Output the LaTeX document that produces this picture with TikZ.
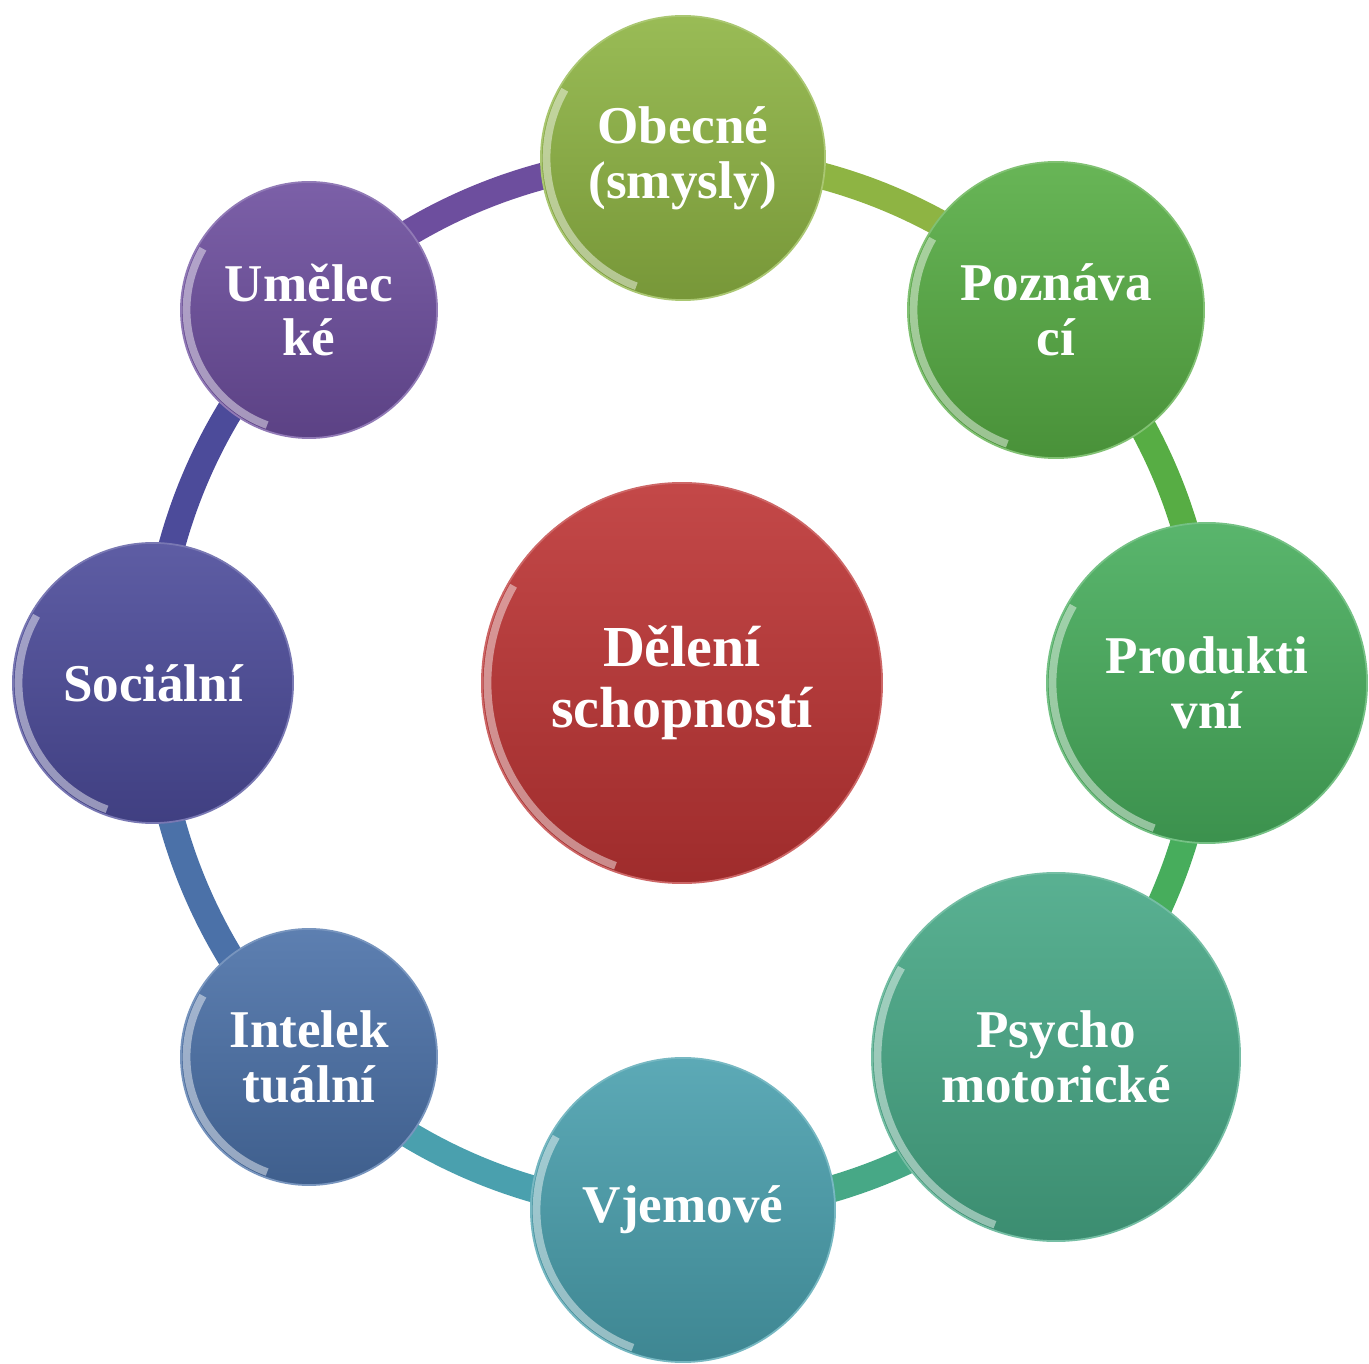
\documentclass[tikz,border=0pt]{standalone}
\usepackage{fontspec}
\setmainfont{Liberation Serif}
\usetikzlibrary{positioning}
\usetikzlibrary{backgrounds}
\usetikzlibrary{calc}

\definecolor{obecneC}{HTML}{8EB443}
\definecolor{poznavaciC}{HTML}{57AD44}
\definecolor{produktivniC}{HTML}{47AD5C}
\definecolor{psychoC}{HTML}{47A886}
\definecolor{vjemoveC}{HTML}{4AA0AE}
\definecolor{intelektC}{HTML}{4B71A8}
\definecolor{socialniC}{HTML}{4C4B9A}
\definecolor{umeleckeC}{HTML}{6D4E9E}
\definecolor{deleniC}{HTML}{BD3434}

\begin{document}
\begin{tikzpicture}[x=0.01cm, y=-0.01cm,
    ball/.style={circle, inner sep=0pt, align=center, text=white,
      font=\bfseries\fontsize{15.1}{15.6}\selectfont,
      top color=#1!90!white, bottom color=#1!84!black,
      draw=#1!75!white, line width=0.5pt,
      path picture={\draw[white, opacity=0.45, line width=2.2pt]
        let \p1=(path picture bounding box.north east),
            \p2=(path picture bounding box.center) in
        ([shift={(150:{\x1-\x2-1.6pt})}]\p2)
          arc[start angle=150, end angle=250, radius={\x1-\x2-1.6pt}];}},
    link/.style={line width=7.6pt, draw=#1, bend left=22.5, looseness=0.885}]
    \useasboundingbox (0,0) rectangle (1369,1364);

    % centre
    \node[ball=deleniC, minimum size=4cm,
      font=\bfseries\fontsize{16.5}{17.4}\selectfont] (deleni) at (682,683) {Dělení\\schopností};

    % ring of abilities
    \node[ball=obecneC, minimum size=2.84cm] (obecne) at (683,158) {Obecné\\(smysly)};
    \node[ball=poznavaciC, minimum size=2.96cm] (poznavaci) at (1056,310) {Poznáva\\cí};
    \node[ball=produktivniC, minimum size=3.2cm] (produktivni) at (1207,683) {Produkti\\vní};
    \node[ball=psychoC, minimum size=3.68cm] (psycho) at (1056,1057) {Psycho\\motorické};
    \node[ball=vjemoveC, minimum size=3.04cm] (vjemove) at (683,1210) {Vjemové};
    \node[ball=intelektC, minimum size=2.56cm] (intelekt) at (309,1057) {Intelek\\tuální};
    \node[ball=socialniC, minimum size=2.8cm] (socialni) at (153,683) {Sociální};
    \node[ball=umeleckeC, minimum size=2.56cm] (umelecke) at (309,310) {Umělec\\ké};

    \begin{scope}[on background layer]
      \draw[link=obecneC] (obecne.center) to (poznavaci.center);
      \draw[link=poznavaciC] (poznavaci.center) to (produktivni.center);
      \draw[link=produktivniC] (produktivni.center) to (psycho.center);
      \draw[link=psychoC] (psycho.center) to (vjemove.center);
      \draw[link=vjemoveC] (vjemove.center) to (intelekt.center);
      \draw[link=intelektC] (intelekt.center) to (socialni.center);
      \draw[link=socialniC] (socialni.center) to (umelecke.center);
      \draw[link=umeleckeC] (umelecke.center) to (obecne.center);
    \end{scope}
\end{tikzpicture}
\end{document}
